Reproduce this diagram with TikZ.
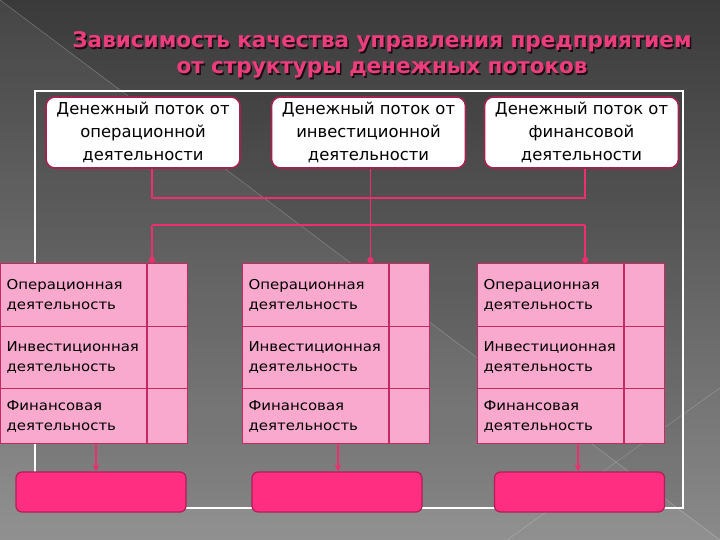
\documentclass[tikz,border=0pt]{standalone}
\usepackage{fontspec}
\setmainfont{DejaVu Sans}
\newfontfamily\widefont[FakeStretch=1.1]{DejaVu Sans}
\usetikzlibrary{arrows.meta}
\definecolor{bgtop}{HTML}{3A3A3A}
\definecolor{bgbot}{HTML}{8A8A8A}
\definecolor{titlepink}{HTML}{EE3D7C}
\definecolor{titleshadow}{HTML}{1E0A12}
\definecolor{connpink}{HTML}{EE2F6E}
\definecolor{cellfill}{HTML}{F8A9CD}
\definecolor{cellborder}{HTML}{C22A62}
\definecolor{boxborder}{HTML}{A3234F}
\definecolor{hotpink}{HTML}{FF2E80}
\definecolor{hotborder}{HTML}{B21E58}
\tikzset{
  topbox/.style={draw=boxborder, fill=white, line width=1.6pt, rounded corners=9pt,
    minimum width=194pt, minimum height=71pt, align=center,
    font=\fontsize{16.4}{23}\selectfont, inner sep=2pt},
  cellbox/.style={draw=cellborder, fill=cellfill, line width=1pt, anchor=north west,
    align=left, font=\widefont\fontsize{13.6}{20}\selectfont, inner xsep=6pt, inner ysep=0pt,
    text width=#1},
  sidecell/.style={draw=cellborder, fill=cellfill, line width=1pt, anchor=north west,
    minimum width=40pt, inner sep=0pt},
  botbox/.style={draw=hotborder, fill=hotpink, line width=1.2pt, rounded corners=6pt,
    minimum width=170pt, minimum height=40pt},
  conn/.style={draw=connpink, line width=1.6pt},
  dotend/.style={conn, -{Circle[length=6pt,width=6pt]}},
  arrend/.style={conn, -{Stealth[length=7pt,width=7pt]}},
}
\begin{document}
\begin{tikzpicture}[x=1pt,y=-1pt]
\useasboundingbox (0,0) rectangle (720,540);
% background
\shade[top color=bgtop, bottom color=bgbot] (0,0) rectangle (720,540);
\fill[white, opacity=0.06] (0,0) -- (720,540) -- (0,540) -- cycle;
\draw[white, opacity=0.22, line width=0.7pt] (0,0) -- (720,540);
\draw[white, opacity=0.18, line width=0.7pt] (507,540) -- (720,388);
% frame
\fill[black, opacity=0.07] (35,91) rectangle (683,508);
\draw[white, line width=1.6pt] (35,91) rectangle (683,508);
% title
\node[font=\bfseries\fontsize{21.5}{26}\selectfont, text=titleshadow, align=center] (titleshadow) at (383.5,56.5)
  {Зависимость качества управления предприятием\\от структуры денежных потоков};
\node[font=\bfseries\fontsize{21.5}{26}\selectfont, text=titlepink, align=center] (title) at (382,55)
  {Зависимость качества управления предприятием\\от структуры денежных потоков};
% top boxes
\node[topbox] (b1) at (143,132.5) {Денежный поток от\\операционной\\деятельности};
\node[topbox] (b2) at (368.5,132.5) {Денежный поток от\\инвестиционной\\деятельности};
\node[topbox] (b3) at (581.5,132.5) {Денежный поток от\\финансовой\\деятельности};
% tables
\foreach \t/\x in {t1/0, t2/242, t3/477} {
  \node[cellbox=134pt, minimum height=63pt] (\t a) at (\x,263) {Операционная\\деятельность};
  \node[cellbox=134pt, minimum height=62pt] (\t b) at (\x,326) {Инвестиционная\\деятельность};
  \node[cellbox=134pt, minimum height=55pt] (\t c) at (\x,388) {Финансовая\\деятельность};
  \node[sidecell, minimum height=63pt] (\t sa) at (\t a.north east) {};
  \node[sidecell, minimum height=62pt] (\t sb) at (\t b.north east) {};
  \node[sidecell, minimum height=55pt] (\t sc) at (\t c.north east) {};
}
% bottom boxes
\node[botbox] (bb1) at (101,492) {};
\node[botbox] (bb2) at (337,492) {};
\node[botbox] (bb3) at (579.5,492) {};
% connectors
\draw[conn] ([xshift=9pt]b1.south) -- ++(0,29) -| ([xshift=3.5pt]b3.south);
\coordinate (hl) at (152,225);
\coordinate (hr) at (585,225);
\draw[conn] (hl) -- (hr);
\draw[dotend] (hl) -- (hl |- t1sa.north);
\draw[dotend] (hr) -- (hr |- t3a.north);
\draw[dotend] ([xshift=2pt]b2.south) -- ([xshift=2pt]b2.south |- t2a.north);
\draw[arrend] ([xshift=-5pt]bb1.north |- t1c.south) -- ([xshift=-5pt]bb1.north);
\draw[arrend] ([xshift=1pt]bb2.north |- t2c.south) -- ([xshift=1pt]bb2.north);
\draw[arrend] ([xshift=-1.5pt]bb3.north |- t3c.south) -- ([xshift=-1.5pt]bb3.north);
\end{tikzpicture}
\end{document}
